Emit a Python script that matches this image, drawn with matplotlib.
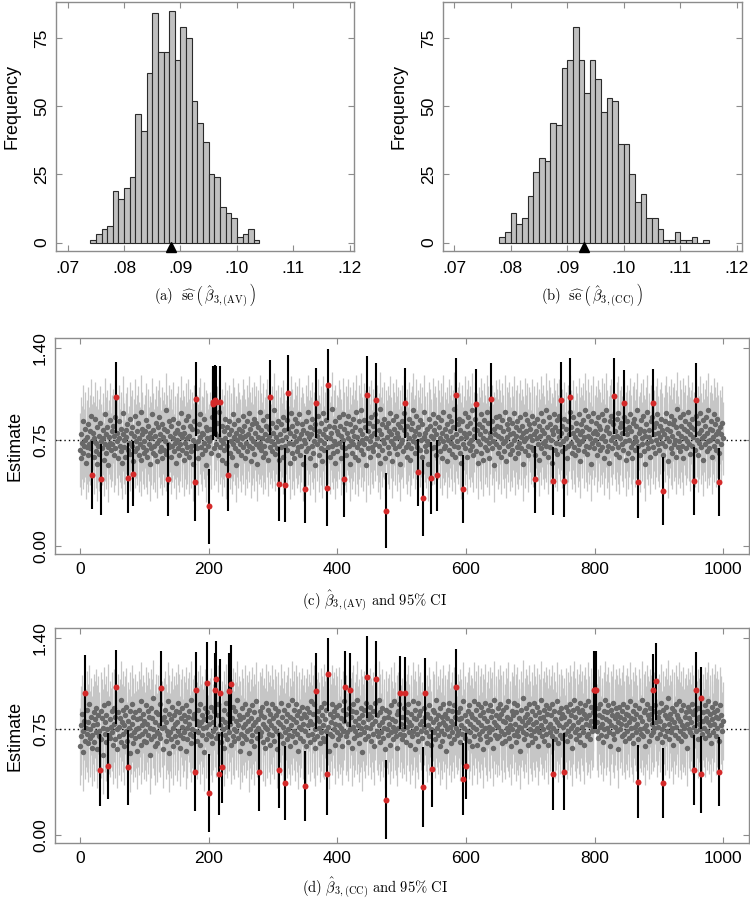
import numpy as np
import matplotlib
matplotlib.use("Agg")
import matplotlib.pyplot as plt

plt.rcParams['font.family'] = ['Liberation Sans', 'DejaVu Sans']
plt.rcParams['mathtext.fontset'] = 'cm'

# ---------------- data ----------------
# histogram of standard errors (bin width 0.001)
bin_width = 0.001
hist_av_start = 0.074
hist_av_counts = [1, 3, 5, 6, 19, 16, 20, 24, 47, 41, 62, 84, 70, 70, 85, 67, 79, 75,
                  52, 44, 37, 25, 24, 13, 11, 9, 2, 3, 5, 1]
se_mean_av = 0.0883
hist_cc_start = 0.078
hist_cc_counts = [2, 4, 11, 7, 9, 17, 26, 31, 30, 44, 43, 64, 67, 79, 67, 55, 67, 60,
                  48, 53, 52, 36, 36, 25, 15, 18, 9, 9, 5, 1, 1, 4, 1, 1, 2, 0, 1]
se_mean_cc = 0.0930

hist_xticks = [0.07, 0.08, 0.09, 0.10, 0.11, 0.12]
hist_xticklabels = ['.07', '.08', '.09', '.10', '.11', '.12']
hist_yticks = [0, 25, 50, 75]

true_value = 0.75
ci_yticks = [0.00, 0.75, 1.40]
ci_yticklabels = ['0.00', '0.75', '1.40']
ci_xticks = [0, 200, 400, 600, 800, 1000]

# estimates (x100), replicate 0..999
est_av_txt = """
68 62 79 73 88 66 71 83 75 59 77 70 86 64 72 81 69 92 50 74 80 63 76 90 67 73 58 84 71 78 65 87 47 74 69 82 76 61 93 72 79 66 84 70 57 77 89 73 68 81
72 85 64 78 91 69 105 74 80 62 76 88 71 67 83 59 79 94 70 75 63 82 77 86 68 48 73 90 65 80 71 84 60 51 78 92 67 74 81 69 87 64 76 72 95 61 79 83 70 66
74 81 68 89 63 77 85 72 58 80 69 76 93 66 82 71 78 64 87 73 60 84 75 91 67 79 70 86 62 77 83 68 74 96 65 81 72 47 88 70 78 63 85 71 76 90 67 80 73 59
82 75 69 87 64 79 72 94 68 77 84 61 80 73 89 66 76 70 92 63 78 85 71 67 83 58 75 88 45 72 104 69 81 74 62 86 77 93 70 80 65 79 73 90 68 84 57 76 82 71
74 28 83 66 77 91 100 102 69 103 80 102 72 87 64 78 95 70 102 75 61 85 73 81 68 90 76 59 84 71 50 79 88 66 74 82 63 93 72 77 86 69 80 57 75 89 67 83 72 78
64 81 76 92 70 85 62 78 73 88 67 79 94 71 83 60 76 86 69 74 90 65 80 72 87 58 77 84 70 95 73 68 82 76 63 89 71 79 66 85 75 92 61 78 83 105 70 74 87 67
80 72 96 65 77 84 69 88 74 61 44 79 86 70 75 91 63 82 71 43 77 89 68 83 108 73 59 80 94 66 85 72 78 62 90 74 81 67 87 70 76 93 64 79 71 86 58 82 75 40
73 88 67 80 95 69 77 84 62 79 71 90 66 83 74 57 86 101 72 78 92 64 81 75 69 87 60 79 94 73 68 83 77 89 41 114 70 85 63 76 80 71 97 66 84 74 59 88 72 81
67 79 91 73 85 62 78 70 93 75 83 47 69 87 64 80 76 92 71 58 86 74 81 66 90 72 78 63 84 95 70 77 61 88 73 82 68 96 75 79 65 89 72 84 57 76 107 81 69 87
74 63 91 78 70 85 67 80 93 72 103 76 88 64 82 71 97 59 79 86 68 75 90 73 62 84 25 77 87 70 81 66 94 74 79 60 89 72 83 76 69 92 65 80 77 86 71 58 84 73
88 75 67 82 94 101 70 79 63 85 72 90 76 61 83 69 87 74 96 78 66 81 73 92 70 84 52 79 68 89 75 63 86 34 77 95 71 80 67 83 74 58 90 72 85 78 48 69 93 76
82 70 87 64 79 50 91 73 84 67 76 89 62 80 74 95 69 83 71 78 60 86 75 92 68 81 73 88 65 77 84 71 97 63 79 107 74 86 70 90 66 82 76 59 88 72 40 80 94 69
77 85 63 91 73 80 68 87 75 96 71 64 83 78 90 100 67 82 74 59 86 72 79 93 66 84 76 61 89 70 81 75 95 68 87 73 62 80 77 104 69 88 74 83 57 79 91 72 85 66
78 92 70 84 63 76 89 73 81 67 95 74 60 86 77 71 83 90 65 79 72 87 68 80 94 75 62 84 78 70 88 66 82 73 91 69 77 85 58 80 74 93 67 81 76 89 71 64 86 78
83 70 92 75 68 87 79 47 64 81 76 90 72 85 61 78 94 69 82 73 88 66 80 74 96 71 84 63 77 91 70 86 75 59 82 46 79 93 68 84 73 89 65 81 77 92 72 103 80 67
85 74 46 90 69 83 76 62 88 71 79 95 105 73 84 66 80 91 70 77 64 87 75 82 68 93 72 79 60 86 74 81 89 67 77 96 71 84 65 78 92 70 83 76 58 88 73 80 94 69
81 75 87 64 79 91 72 85 68 83 76 93 70 78 62 89 74 82 96 67 84 71 80 59 88 75 92 69 77 86 106 73 81 65 90 78 70 94 63 84 76 87 72 80 68 101 91 74 83 61
79 88 66 84 75 93 70 81 62 87 73 90 77 68 85 74 96 71 45 80 83 64 89 76 72 92 67 81 78 58 86 73 95 69 82 77 63 88 74 91 70 101 79 84 66 87 75 93 72 80
68 85 77 90 73 82 64 39 79 88 71 94 76 83 60 87 74 81 69 92 78 66 86 72 89 75 63 84 97 70 80 74 91 67 85 78 71 93 62 83 76 88 69 81 74 95 72 86 65 79
84 71 90 77 46 83 68 92 103 75 87 64 80 73 94 70 82 76 89 61 78 85 72 91 67 80 74 96 69 83 75 88 63 82 77 93 71 86 79 68 90 74 81 66 45 84 72 79 87 76
"""
est_cc_txt = """
63 78 70 86 74 59 81 101 67 76 89 72 80 65 93 75 69 84 71 62 78 87 66 82 73 90 61 79 85 70 74 46 88 68 83 76 57 92 72 80 66 85 75 94 49 71 82 69 77 88
73 64 90 79 68 84 105 75 61 87 77 70 83 96 66 80 72 89 63 78 85 74 91 67 81 48 76 58 88 71 79 93 65 84 73 69 87 75 82 60 76 89 70 83 64 95 78 72 86 67
81 74 92 66 79 88 71 84 57 76 90 68 83 75 97 70 80 63 87 73 65 86 78 72 93 69 104 82 76 61 84 77 89 67 80 74 95 71 58 86 73 82 68 91 76 63 85 79 70 88
66 80 94 74 87 71 62 83 77 90 69 85 73 81 60 92 76 68 84 79 88 72 65 96 75 83 70 86 45 74 103 81 67 89 73 78 93 64 80 71 85 76 59 82 90 68 77 87 108 72
79 30 84 70 91 65 80 74 88 103 76 111 69 85 72 93 43 78 101 66 48 82 75 89 62 80 71 94 77 68 86 73 102 79 64 107 83 70 91 75 67 88 74 81 96 69 78 85 60 82
72 90 65 84 77 70 93 79 68 86 74 81 58 89 75 67 83 92 71 78 87 63 80 74 95 69 82 76 45 88 70 85 73 91 66 79 84 62 77 94 75 68 89 81 72 86 64 78 93 71
83 76 67 90 74 85 61 80 88 72 46 79 94 70 84 65 77 89 73 37 81 68 86 75 92 71 63 84 78 96 70 82 74 89 66 80 93 72 85 60 77 88 69 83 75 91 67 79 86 35
74 84 63 90 78 71 87 66 81 95 72 79 86 68 93 75 62 102 83 70 88 76 81 65 91 73 85 69 78 94 67 82 74 89 43 114 77 60 86 72 80 93 70 84 75 88 64 79 91 73
85 68 78 92 71 83 76 63 89 74 81 95 105 70 86 73 79 66 90 103 75 84 62 88 77 93 69 81 74 87 71 96 78 65 83 72 90 76 59 85 80 73 89 68 94 77 112 82 70 86
76 91 67 84 79 72 88 63 81 94 111 74 85 70 96 78 66 87 73 80 90 69 83 76 61 89 25 75 84 71 87 79 64 92 73 82 77 68 95 74 81 70 86 62 88 76 93 72 101 79
68 84 75 90 71 101 82 66 87 77 93 73 80 64 86 78 70 95 74 83 61 89 76 82 72 94 67 85 79 88 74 81 69 34 90 77 84 101 73 65 86 78 92 70 83 75 64 47 89 80
73 87 68 82 96 76 71 85 79 63 90 74 84 67 80 93 72 78 86 60 83 75 89 70 94 77 65 81 88 73 79 92 68 84 76 105 71 87 74 82 66 90 78 83 72 95 40 76 85 69
49 81 74 88 67 92 79 73 86 63 84 77 95 70 82 75 89 64 80 93 72 85 68 91 78 74 87 61 83 76 94 70 81 66 89 77 73 92 68 84 75 88 62 80 96 71 85 78 69 90
77 83 70 93 74 86 65 81 89 72 80 67 91 76 84 73 95 69 82 78 63 88 75 85 71 94 79 66 87 74 92 70 83 77 60 89 76 81 73 97 68 84 78 90 72 86 64 80 93 75
82 71 88 66 79 94 74 85 69 80 91 76 63 87 73 83 78 96 70 84 75 89 67 81 92 72 86 77 64 90 79 73 85 70 93 43 76 88 68 82 74 95 80 65 87 78 71 90 83 69
86 77 45 84 72 91 79 67 88 74 81 93 70 85 76 62 89 78 96 73 84 68 90 75 80 87 71 94 66 82 77 89 73 86 64 92 79 83 70 95 72 85 78 68 91 81 74 87 76 103
103 103 103 80 74 90 69 85 77 93 71 84 79 66 88 75 96 82 70 87 76 92 73 81 63 89 78 85 72 94 68 83 77 90 74 86 80 61 91 75 84 79 70 88 93 72 82 67 86 78
91 74 85 69 80 95 76 83 71 88 65 82 77 92 73 86 79 68 38 90 75 84 72 96 81 70 87 76 63 89 78 93 74 85 67 82 90 71 86 79 103 73 88 76 92 109 80 69 84 77
87 72 81 94 75 66 89 37 78 85 70 91 83 74 97 79 68 86 73 82 90 76 64 88 80 71 93 77 85 69 83 95 74 81 67 89 78 72 92 76 84 70 87 79 62 91 75 83 88 73
80 93 71 86 46 77 89 74 103 82 68 90 79 84 75 97 43 72 87 81 76 92 69 83 88 74 80 95 71 86 78 65 91 82 73 87 79 94 70 84 89 76 83 67 45 92 78 85 74 81
"""

# half-width of the intervals for non-covering (red) replicates
red_av_idx = [18, 32, 56, 75, 83, 137, 178, 180, 201, 206, 207, 209, 211, 218, 230, 295,
              310, 319, 324, 349, 367, 384, 385, 411, 446, 460, 476, 505, 526, 533, 546,
              555, 585, 596, 615, 639, 707, 735, 747, 752, 762, 830, 845, 868, 891, 907,
              954, 958, 994]
red_av_hw = [0.24, 0.25, 0.25, 0.25, 0.23, 0.255, 0.27, 0.26, 0.265, 0.25, 0.25, 0.25,
             0.25, 0.25, 0.25, 0.265, 0.26, 0.26, 0.27, 0.24, 0.25, 0.27, 0.25, 0.265,
             0.27, 0.26, 0.265, 0.245, 0.235, 0.27, 0.255, 0.25, 0.26, 0.24, 0.25, 0.25,
             0.235, 0.24, 0.27, 0.255, 0.28, 0.27, 0.233, 0.255, 0.24, 0.24, 0.24, 0.26,
             0.24]
red_cc_idx = [7, 31, 44, 56, 75, 126, 178, 180, 198, 201, 209, 211, 216, 218, 220, 232,
              235, 278, 310, 319, 349, 367, 384, 385, 412, 419, 446, 460, 476, 498, 505,
              533, 537, 547, 585, 596, 600, 735, 752, 799, 800, 801, 802, 868, 890, 895,
              907, 954, 958, 965, 966, 994]
red_cc_hw = [0.264, 0.255, 0.237, 0.263, 0.265, 0.266, 0.278, 0.266, 0.287, 0.276, 0.26,
             0.27, 0.29, 0.24, 0.252, 0.27, 0.28, 0.28, 0.267, 0.264, 0.25, 0.27, 0.284,
             0.26, 0.256, 0.26, 0.29, 0.27, 0.28, 0.258, 0.255, 0.285, 0.243, 0.272,
             0.273, 0.256, 0.232, 0.252, 0.274, 0.278, 0.278, 0.278, 0.278, 0.262, 0.252,
             0.276, 0.249, 0.25, 0.267, 0.22, 0.272, 0.246]
hw_av = 0.26
hw_cc = 0.275

est_av = np.array(est_av_txt.split(), dtype=float) / 100.0
est_cc = np.array(est_cc_txt.split(), dtype=float) / 100.0
assert len(est_av) == 1000, len(est_av)
assert len(est_cc) == 1000, len(est_cc)
assert len(red_av_idx) == len(red_av_hw)
assert len(red_cc_idx) == len(red_cc_hw)

# ---------------- styles ----------------
FRAME = '#8c8c8c'
W, H = 750, 900


def px_axes(l, t, r, b):
    return fig.add_axes([l / W, 1 - b / H, (r - l) / W, (b - t) / H])


def style_frame(ax):
    for s in ax.spines.values():
        s.set_color(FRAME)
        s.set_linewidth(1.0)
    ax.tick_params(direction='in', length=4, width=0.8, color=FRAME,
                   top=True, right=True, labelsize=12.5)
    ax.tick_params(axis='x', pad=7)
    ax.tick_params(axis='y', pad=5)


def rot_yticklabels(ax):
    for lab in ax.get_yticklabels():
        lab.set_rotation(90)
        lab.set_va('center')
        lab.set_ha('right')


fig = plt.figure(figsize=(W / 100, H / 100), dpi=100)

# ---------------- histograms ----------------
def hist_panel(ax, start, counts, mean_se, xlim):
    n = len(counts)
    left = start + bin_width * np.arange(n)
    ax.bar(left, counts, width=bin_width, align='edge', color='#c0c0c0',
           edgecolor='#2a2a2a', linewidth=0.8, zorder=2)
    ax.plot([mean_se], [-1.75], marker='^', color='black', ms=7.5, clip_on=False,
            zorder=3)
    ax.set_xlim(*xlim)
    ax.set_ylim(-3.05, 88.2)
    ax.set_xticks(hist_xticks)
    ax.set_xticklabels(hist_xticklabels)
    ax.set_yticks(hist_yticks)
    style_frame(ax)
    rot_yticklabels(ax)
    ax.set_ylabel('Frequency', fontsize=13)
    ax.yaxis.set_label_coords(-0.118, 0.58)


ax_a = px_axes(56, 2, 354, 251)
hist_panel(ax_a, hist_av_start, hist_av_counts, se_mean_av, (0.06793, 0.12077))
ax_b = px_axes(443, 2, 742, 251)
hist_panel(ax_b, hist_cc_start, hist_cc_counts, se_mean_cc, (0.06805, 0.12089))

# ---------------- CI panels ----------------
def ci_panel(ax, est, hw, red_idx, red_hw):
    n = len(est)
    x = np.arange(n)
    red = np.zeros(n, dtype=bool)
    red[red_idx] = True
    g = ~red
    ax.vlines(x[g], est[g] - hw, est[g] + hw, colors='#c6c6c6', linewidth=0.9,
              zorder=1)
    ax.axhline(true_value, color='black', linestyle=(0, (1, 2.2)), linewidth=1.0,
               zorder=2)
    ax.plot(x[g], est[g], 'o', ms=3.9, color='#686868', mec='none', zorder=3)
    rx = x[red]
    re = est[red]
    rh = np.array(red_hw)
    order = np.argsort(red_idx)
    rh = rh[order]
    ax.vlines(rx, re - rh, re + rh, colors='black', linewidth=1.5, zorder=4)
    ax.plot(rx, re, 'o', ms=4.3, color='#d42a2a', mec='none', zorder=5)
    ax.set_xlim(-39, 1040)
    ax.set_ylim(-0.056, 1.469)
    ax.set_xticks(ci_xticks)
    ax.set_yticks(ci_yticks)
    ax.set_yticklabels(ci_yticklabels)
    style_frame(ax)
    ax.tick_params(axis='x', pad=6)
    rot_yticklabels(ax)
    ax.set_ylabel('Estimate', fontsize=13)
    ax.yaxis.set_label_coords(-0.045, 0.5)


ax_c = px_axes(55, 338, 749, 554)
ci_panel(ax_c, est_av, hw_av, red_av_idx, red_av_hw)
ax_d = px_axes(55, 628, 749, 843)
ci_panel(ax_d, est_cc, hw_cc, red_cc_idx, red_cc_hw)

# ---------------- captions ----------------
cap_kw = dict(ha='center', va='center', fontsize=10.5)
fig.text(205 / W, 1 - 295 / H,
         r'$\mathrm{(a)}\ \ \widehat{\mathrm{se}}\,\left(\,\hat{\beta}_{3,(\mathrm{AV})}\,\right)$',
         **cap_kw)
fig.text(592 / W, 1 - 295 / H,
         r'$\mathrm{(b)}\ \ \widehat{\mathrm{se}}\,\left(\,\hat{\beta}_{3,(\mathrm{CC})}\,\right)$',
         **cap_kw)
fig.text(375 / W, 1 - 601 / H,
         r'$\mathrm{(c)}\ \hat{\beta}_{3,(\mathrm{AV})}\ \mathrm{and\ 95\%\ CI}$', **cap_kw)
fig.text(375 / W, 1 - 888 / H,
         r'$\mathrm{(d)}\ \hat{\beta}_{3,(\mathrm{CC})}\ \mathrm{and\ 95\%\ CI}$', **cap_kw)

fig.savefig('out.png', dpi=100)
